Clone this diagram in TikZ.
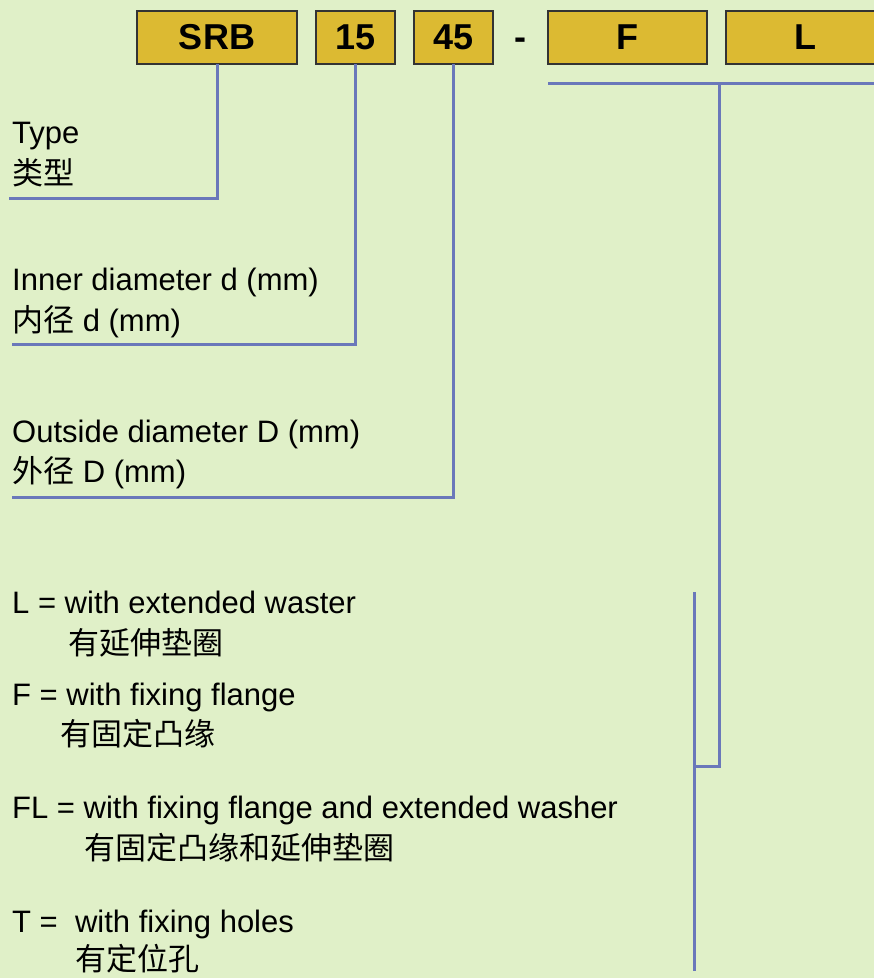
\documentclass[tikz,border=0pt]{standalone}
\usepackage{fontspec}
\setmainfont{Liberation Sans}
\newfontfamily\cjk{Noto Sans CJK SC}
\usetikzlibrary{positioning,calc}
\definecolor{bggreen}{RGB}{224,240,200}
\definecolor{codegold}{RGB}{220,186,50}
\definecolor{linkblue}{RGB}{106,120,186}

\begin{document}
\begin{tikzpicture}[
    x=1pt, y=-1pt,
    node distance=19pt,
    codebox/.style={rectangle, draw=black!80, line width=1.2pt, fill=codegold, minimum height=53pt, inner sep=0pt, outer sep=0pt, font=\fontsize{36}{36}\selectfont\bfseries},
    desc/.style={anchor=base west, inner sep=0pt, font=\fontsize{31}{31}\selectfont},
    desccn/.style={anchor=base west, inner sep=0pt, font=\fontsize{31}{31}\selectfont\cjk},
    link/.style={linkblue, line width=3pt}
]
\fill [bggreen] (0,0) rectangle (874,978);
\useasboundingbox (0,0) rectangle (874,978);

% code boxes
\node [codebox, minimum width=160pt] (srb) at (217,37.5) {SRB};
\node [codebox, minimum width=79pt, right=of srb] (d15) {15};
\node [codebox, minimum width=79pt, right=of d15] (d45) {45};
\node [codebox, minimum width=159pt, right=55pt of d45] (f) {F};
\node [codebox, minimum width=159pt, right=of f] (l) {L};
\node [anchor=base, inner sep=0pt, font=\fontsize{36}{36}\selectfont\bfseries] (dash) at ($(d45.base east)!0.5!(f.base west)$) {-};

% descriptions
\node [desc] (type) at (12,143) {Type};
\node [desccn] (typecn) at (12,184) {类型};
\node [desc] (inner) at (12,290) {Inner diameter d (mm)};
\node [desc] (innercn) at (12,331) {{\cjk 内径} d (mm)};
\node [desc] (outer) at (12,442) {Outside diameter D (mm)};
\node [desc] (outercn) at (12,482) {{\cjk 外径} D (mm)};

\node [desc] (optl) at (12,613) {L = with extended waster};
\node [desccn] (optlcn) at (68,654) {有延伸垫圈};
\node [desc] (optf) at (12,705) {F = with fixing flange};
\node [desccn] (optfcn) at (60,745) {有固定凸缘};
\node [desc] (optfl) at (12,818) {FL = with fixing flange and extended washer};
\node [desccn] (optflcn) at (84,859) {有固定凸缘和延伸垫圈};
\node [desc] (optt) at (12,932) {T = \ with fixing holes};
\node [desccn] (opttcn) at (75,970) {有定位孔};

% connectors
\coordinate (typeend) at (9,198);
\coordinate (innerend) at (12,344);
\coordinate (outerend) at (12,497);
\coordinate (fbar) at (548,83);
\coordinate (lbar) at (890,83);
\coordinate (split) at (719,83);
\coordinate (choice) at (694,766);
\coordinate (choicetop) at (694,592);
\coordinate (choicebot) at (694,971);

\draw [link] (srb.south) |- (typeend);
\draw [link] (d15.south) |- (innerend);
\draw [link] (d45.south) |- (outerend);
\draw [link] (fbar) -- (lbar);
\draw [link] (split) |- (choice);
\draw [link] (choicetop) -- (choicebot);

\end{tikzpicture}
\end{document}
